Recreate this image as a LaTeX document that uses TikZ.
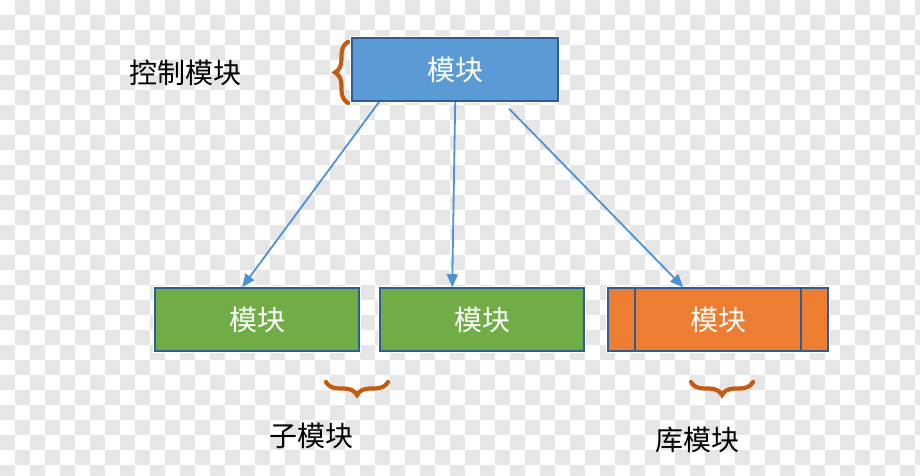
\documentclass[tikz,border=0pt]{standalone}
\usepackage{fontspec}
\newfontfamily\cjk{Noto Sans CJK SC}
\usetikzlibrary{arrows.meta,calc,decorations.pathreplacing}
\definecolor{chk}{HTML}{E6E6E6}
\definecolor{topblue}{HTML}{5B9BD5}
\definecolor{gfill}{HTML}{70AD47}
\definecolor{ofill}{HTML}{ED7D31}
\definecolor{bord}{HTML}{2F5C93}
\definecolor{arrowc}{HTML}{4E92D6}
\definecolor{bracec}{HTML}{C55A11}
\tikzset{
  modbox/.style={draw=bord, line width=1.6pt, minimum width=204pt, minimum height=63pt,
    inner sep=0pt, text=white, font=\cjk\fontsize{28}{32}\selectfont,
    preaction={draw=white, line width=4pt}},
  conn/.style={draw=arrowc, line width=1.8pt, -{Triangle[length=13pt,width=11pt]}},
  bracedeco/.style={draw=bracec, line width=4.2pt, line cap=round,
    decorate, decoration={brace, amplitude=13pt}},
  lbl/.style={text=black, font=\cjk\fontsize{28}{32}\selectfont, inner sep=0pt}
}
\begin{document}
\begin{tikzpicture}[x=1pt,y=1pt]
\useasboundingbox (0,0) rectangle (920,476);
\fill[white] (0,0) rectangle (920,476);
\begin{scope}
\clip (0,0) rectangle (920,476);
\foreach \j in {0,...,31}{
  \pgfmathtruncatemacro\s{mod(\j+1,2)}
  \foreach \i in {0,2,...,61}{
    \fill[chk] ({(\i+\s)*15},{476-15*(\j+1)}) rectangle +(15,15);
  }
}
\end{scope}

% boxes
\node[modbox, fill=topblue, minimum width=206pt] (top) at (455,406.5) {模块};
\node[modbox, fill=gfill] (g1) at (257,156.5) {模块};
\node[modbox, fill=gfill] (g2) at (482,156.5) {模块};
\node[modbox, fill=ofill, minimum width=220pt] (o1) at (718,156.5) {模块};
\draw[bord, line width=1.6pt] ($(o1.north west)+(28,0)$) -- ($(o1.south west)+(28,0)$);
\draw[bord, line width=1.6pt] ($(o1.north east)+(-28,0)$) -- ($(o1.south east)+(-28,0)$);

% connectors
\draw[conn] ($(top.south west)+(28,0)$) -- ($(g1.north west)+(88,0)$);
\draw[conn] ($(top.south west)+(104,0)$) -- ($(g2.north west)+(73,0)$);
\draw[conn] ($(top.south west)+(158,-7)$) -- ($(o1.north west)+(76,0)$);

% braces
\coordinate (b1a) at (348,373);
\coordinate (b1b) at (348,434);
\draw[bracedeco] (b1a) -- (b1b);
\coordinate (b2a) at (388,94);
\coordinate (b2b) at (326,94);
\draw[bracedeco] (b2a) -- (b2b);
\coordinate (b3a) at (753,94);
\coordinate (b3b) at (691,94);
\draw[bracedeco] (b3a) -- (b3b);

% labels
\node[lbl] (l1) at (185,403) {控制模块};
\node[lbl] (l2) at (311,40) {子模块};
\node[lbl] (l3) at (697,36) {库模块};
\end{tikzpicture}
\end{document}
